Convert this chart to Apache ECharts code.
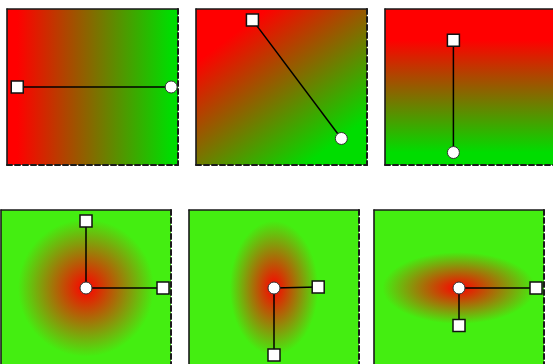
<!DOCTYPE html>
<html>
<head>
<meta charset="utf-8">
<script src="https://cdn.jsdelivr.net/npm/echarts@6/dist/echarts.min.js"></script>
<style>html,body{margin:0;padding:0;background:#fff;}#c{width:553px;height:364px;}</style>
</head>
<body>
<div id="c"></div>
<script>
// Linear gradient panels: handle start (square) and end (circle), in panel units (0-100)
const linearStart = [[6, 50], [33, 7], [40, 20]];
const linearEnd = [[96, 50], [85, 83], [40, 92]];
const linearColors = ['#ff0000', '#00dd00'];

// Radial gradient panels: centre, radii, and the two radius handles, in panel units
const radialCenter = [[50, 50], [50, 50], [50, 50]];
const radialRadius = [[40, 44], [26, 43], [45, 23]];
const radialXHandle = [[95.3, 50], [76, 49.4], [95.3, 50]];
const radialYHandle = [[50, 7], [50, 93], [50, 74]];
const radialColors = ['#ff0000', '#44ee11'];

// layout
const topLefts = [7, 196, 385], topY = 9, topW = 171, topH = 156;
const botLefts = [1, 189, 374], botY = 210, botW = 170, botH = 156;

const grids = [], xAxes = [], yAxes = [], series = [];
const border = '#1a1a1a';

function addPanel(left, top, w, h, bg) {
  const i = grids.length;
  grids.push({left: left, top: top, width: w, height: h, show: true, backgroundColor: bg,
    borderWidth: 0, containLabel: false, outerBoundsMode: 'none'});
  const base = {gridIndex: i, type: 'value', min: 0, max: 100, axisTick: {show: false},
    axisLabel: {show: false}, splitLine: {show: false}};
  xAxes.push(Object.assign({}, base, {position: 'bottom',
    axisLine: {show: true, onZero: false, lineStyle: {color: border, width: 2, type: [5, 3]}}}));
  xAxes.push(Object.assign({}, base, {position: 'top',
    axisLine: {show: true, onZero: false, lineStyle: {color: border, width: 1.6}}}));
  yAxes.push(Object.assign({}, base, {position: 'left', inverse: true,
    axisLine: {show: true, onZero: false, lineStyle: {color: border, width: 1.6}}}));
  yAxes.push(Object.assign({}, base, {position: 'right', inverse: true,
    axisLine: {show: true, onZero: false, lineStyle: {color: border, width: 2, type: [5, 3]}}}));
  return i;
}

const sqStyle = {color: '#fff', borderColor: '#111', borderWidth: 1.5};
const ciStyle = {color: '#fff', borderColor: '#333', borderWidth: 1};

function handleSeries(i, pts) {
  series.push({
    type: 'line', xAxisIndex: 2 * i, yAxisIndex: 2 * i, z: 3,
    showSymbol: true, showAllSymbol: true, silent: true, animation: false,
    lineStyle: {color: '#000', width: 1.5},
    data: pts.map(p => ({value: p.v, symbol: p.s === 'sq' ? 'rect' : 'circle',
      symbolSize: 12, itemStyle: p.s === 'sq' ? sqStyle : ciStyle}))
  });
}

for (let k = 0; k < 3; k++) {
  const s = linearStart[k], e = linearEnd[k];
  const bg = new echarts.graphic.LinearGradient(s[0] / 100, s[1] / 100, e[0] / 100, e[1] / 100,
    [{offset: 0, color: linearColors[0]}, {offset: 1, color: linearColors[1]}]);
  const i = addPanel(topLefts[k], topY, topW, topH, bg);
  handleSeries(i, [{v: s, s: 'sq'}, {v: e, s: 'ci'}]);
}

for (let k = 0; k < 3; k++) {
  const i = addPanel(botLefts[k], botY, botW, botH, radialColors[1]);
  const c = radialCenter[k], r = radialRadius[k];
  series.push({
    type: 'custom', xAxisIndex: 2 * i, yAxisIndex: 2 * i, z: 1, silent: true, animation: false,
    data: [[c[0], c[1], r[0], r[1]]],
    renderItem: function (params, api) {
      const p = api.coord([api.value(0), api.value(1)]);
      const sz = api.size([api.value(2), api.value(3)]);
      return {
        type: 'circle', x: p[0], y: p[1], scaleX: sz[0] / 100, scaleY: sz[1] / 100,
        shape: {cx: 0, cy: 0, r: 100},
        style: {fill: new echarts.graphic.RadialGradient(0.5, 0.5, 0.5,
          [{offset: 0, color: radialColors[0]}, {offset: 1, color: radialColors[1]}])}
      };
    }
  });
  handleSeries(i, [{v: radialXHandle[k], s: 'sq'}, {v: c, s: 'ci'}, {v: radialYHandle[k], s: 'sq'}]);
}

const chart = echarts.init(document.getElementById('c'), null, {renderer: 'canvas'});
chart.setOption({animation: false, backgroundColor: '#fff', grid: grids, xAxis: xAxes, yAxis: yAxes, series: series});
</script>
</body>
</html>
